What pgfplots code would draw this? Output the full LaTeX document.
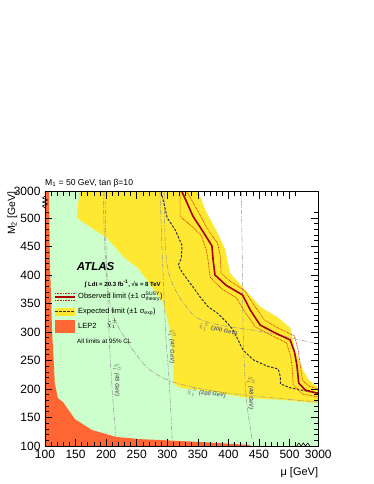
\documentclass[border=0pt]{standalone}
\usepackage{pgfplots}
\pgfplotsset{compat=1.18}
\usepackage{fontspec}
\setmainfont{Liberation Sans}
\definecolor{lsp}{RGB}{204,255,204}
\definecolor{yel}{RGB}{255,232,50}
\definecolor{lep}{RGB}{255,102,51}
\definecolor{obs}{RGB}{170,0,0}
\definecolor{dotr}{RGB}{215,45,0}
\definecolor{expc}{RGB}{50,50,70}
\definecolor{cont}{RGB}{150,150,150}
\definecolor{contt}{RGB}{105,105,105}
\begin{document}
\begin{tikzpicture}
\useasboundingbox (-45pt,-38pt) rectangle (329pt,446pt);
\begin{axis}[
  name=ax, at={(0pt,0pt)}, anchor=south west,
  scale only axis, width=273.3pt, height=254.3pt,
  xmin=100, xmax=547, ymin=100, ymax=546,
  axis on top, clip mode=individual,
  xtick={100,150,200,250,300,350,400,450,500,547},
  xticklabels={100,150,200,250,300,350,400,450,500,3000},
  ytick={100,150,200,250,300,350,400,450,500,546},
  yticklabels={100,150,200,250,300,350,400,450,500,3000},
  minor xtick={110,120,...,510}, minor ytick={110,120,...,510},
  tick align=inside, xtick pos=both, ytick pos=both,
  major tick length=7pt, minor tick length=4pt,
  tick style={black, line width=0.6pt},
  axis line style={line width=0.8pt},
  ticklabel style={font=\fontsize{12}{12}\selectfont},
  xticklabel style={yshift=-1pt},
  yticklabel style={xshift=-1pt},
]
% green region (everything left of outer expected band edge)
\addplot[fill=lsp, draw=none] coordinates {(100,100) (547,100) (547,202) (531,216) (522,233) (509,268) (501,307) (480,326) (452,344) (423,379) (403,403) (398,426) (395,444) (382,474) (362,514) (351,546) (100,546)} --cycle;
% expected +-1 sigma band
\addplot[fill=yel, draw=none] coordinates {(157,546) (154,523) (152,500) (177,482) (201.5,465) (229,431) (252,412) (267,391) (293,351) (301,321) (308,281) (310,233) (310,210) (321,202) (375,195) (431,184) (485,181) (547,175) (547,202) (531,216) (522,233) (509,268) (501,307) (480,326) (452,344) (423,379) (403,403) (398,426) (395,444) (382,474) (362,514) (351,546)} --cycle;
% mass contours
\addplot[cont, line width=0.5pt, dash pattern=on 5pt off 1.5pt on 1pt off 1.5pt, smooth] coordinates {(198,546) (200,444) (203,356) (206,268) (211,181) (216,116)};
\addplot[cont, line width=0.5pt, dash pattern=on 5pt off 1.5pt on 1pt off 1.5pt, smooth] coordinates {(288,546) (291.5,444) (295,356) (298,286) (303,216) (308,110.5)};
\addplot[cont, line width=0.5pt, dash pattern=on 5pt off 1.5pt on 1pt off 1.5pt, smooth] coordinates {(421,546) (422.5,444) (424,303) (429,186) (439,110.5)};
\addplot[cont, line width=0.5pt, dash pattern=on 5pt off 1.5pt on 1pt off 1.5pt, smooth] coordinates {(195,546) (198,444) (203,374) (211,330) (223,303) (244,268) (272,233) (316,210) (398,193) (547,177)};
\addplot[cont, line width=0.5pt, dash pattern=on 5pt off 1.5pt on 1pt off 1.5pt, smooth] coordinates {(295,546) (296.5,461) (301,409) (313,374) (329,347) (349,324.5) (386.5,312) (457,300) (547,279)};
% LEP2
\addplot[fill=lep, draw=none] coordinates {(100,100) (436,100) (436,101.8) (354,107) (288,110.5) (256,112) (216,116) (177,128) (149,147) (129.5,177) (121,184) (116,210) (115,233) (111.5,303) (108,426) (106.5,546) (100,546)} --cycle;
% expected limit
\addplot[expc, line width=1pt, dash pattern=on 2.5pt off 1.5pt] coordinates {(290,546) (295,523) (300,500) (313,479) (324,452) (323,430) (318,417) (324,405) (342,379) (354,361) (367,344) (382,333) (398,316) (408,303) (424,268) (441,251) (463.5,240) (481.5,235) (485,221) (485,209) (501,202) (534,195) (547,193)};
% observed +-1 sigma theory
\addplot[dotr, line width=0.7pt, dash pattern=on 0.8pt off 0.8pt] coordinates {(321,546) (321,503) (337,488) (355,470) (364,444) (367,423) (370,396) (390,375) (413,360) (427,335) (444,309) (472,293) (495,281) (501,260) (504,242) (506,207) (521,191) (547,186)};
\addplot[dotr, line width=0.7pt, dash pattern=on 0.8pt off 0.8pt] coordinates {(332,546) (349,514) (365,482) (382,456) (386.5,435) (388,403) (403,389) (427,372) (442,347) (459,321) (481,307) (508,293) (514,268) (517.5,242) (521,216) (531,205) (547,200)};
% observed limit
\addplot[obs, line width=1.6pt] coordinates {(324,546) (332.5,526) (342,503) (359,475) (373,451) (375,426) (378,400) (396,382) (423,365) (436,338) (452,312) (477,298) (501,286) (508,265) (512,242) (515,210) (526,198) (547,192)};

% contour labels
\begin{scope}[font=\fontsize{5.8}{6}\selectfont\bfseries\itshape, text=contt]
\node[rotate=-90] at (axis cs:218,216) {$\tilde{\chi}^{0}_{1}$ (45 GeV)};
\node[rotate=-90] at (axis cs:308,275) {$\tilde{\chi}^{0}_{1}$ (47 GeV)};
\node[rotate=-90] at (axis cs:437,193) {$\tilde{\chi}^{0}_{1}$ (48 GeV)};
\node[rotate=-12] at (axis cs:383,304) {$\tilde{\chi}^{\pm}_{1}$ (300 GeV)};
\node[rotate=-6] at (axis cs:364,192) {$\tilde{\chi}^{\pm}_{1}$ (200 GeV)};
\end{scope}

% ATLAS label and legend
\node[anchor=west, inner sep=0pt, font=\fontsize{11.5}{12}\selectfont\bfseries\itshape] at (axis cs:151.8,415) {ATLAS};
\node[anchor=west, inner sep=0pt, font=\fontsize{6}{7}\selectfont\bfseries] at (axis cs:165,384) {∫ Ldt = 20.3 fb\textsuperscript{-1}, √s = 8 TeV};
\draw[dotr, line width=0.7pt, dash pattern=on 0.8pt off 0.8pt] (axis cs:116.4,368.3) -- (axis cs:149.1,368.3);
\draw[dotr, line width=0.7pt, dash pattern=on 0.8pt off 0.8pt] (axis cs:116.4,356.1) -- (axis cs:149.1,356.1);
\draw[obs, line width=1.6pt] (axis cs:116.4,361.8) -- (axis cs:149.1,361.8);
\fill[yel] (axis cs:116.4,328.5) rectangle (axis cs:149.1,342.5);
\draw[expc, line width=1pt, dash pattern=on 2.5pt off 1.5pt] (axis cs:116.4,335.5) -- (axis cs:149.1,335.5);
\fill[lep] (axis cs:116.4,298.7) rectangle (axis cs:149.1,321);
\begin{scope}[font=\fontsize{7.5}{8}\selectfont]
\node[anchor=west, inner sep=0pt] at (axis cs:154,361.8) {Observed limit (±1 σ$^{\mbox{\fontsize{5}{5}\selectfont SUSY}}_{\mbox{\fontsize{5}{5}\selectfont theory}}$)};
\node[anchor=west, inner sep=0pt] at (axis cs:154,335) {Expected limit (±1 σ$_{\mbox{\fontsize{5}{5}\selectfont exp}}$)};
\node[anchor=west, inner sep=0pt] at (axis cs:154,310.5) {LEP2};
\node[anchor=west, inner sep=0pt] at (axis cs:201,314) {$\tilde{\chi}^{\pm}_{1}$};
\end{scope}
\node[anchor=west, inner sep=0pt, font=\fontsize{6.3}{7}\selectfont] at (axis cs:152.4,282.9) {All limits at 95\% CL};
\end{axis}
% axis breaks
\draw[line width=0.6pt] ([xshift=251.7pt]ax.south west) -- ++(2.2pt,3pt) -- ++(2.2pt,-3pt) -- ++(2.2pt,3pt) -- ++(2.2pt,-3pt) -- ++(2.2pt,3pt) -- ++(2.2pt,-3pt);
\draw[line width=0.6pt] ([yshift=238pt]ax.south west) -- ++(-2.5pt,2pt) -- ++(5pt,2pt) -- ++(-5pt,2pt) -- ++(5pt,2pt) -- ++(-5pt,2pt) -- ++(2.5pt,2pt);
% title and axis labels
\node[anchor=base west, inner sep=0pt, font=\fontsize{8.6}{9}\selectfont] at ([yshift=6.5pt]ax.north west) {M\textsubscript{1} = 50 GeV, tan β=10};
\node[anchor=base east, inner sep=0pt, rotate=90, font=\fontsize{10.5}{11}\selectfont] at ([xshift=-30pt]ax.north west) {M\textsubscript{2} [GeV]};
\node[anchor=base east, inner sep=0pt, font=\fontsize{11}{12}\selectfont] at ([yshift=-29pt]ax.south east) {μ [GeV]};
\end{tikzpicture}
\end{document}
